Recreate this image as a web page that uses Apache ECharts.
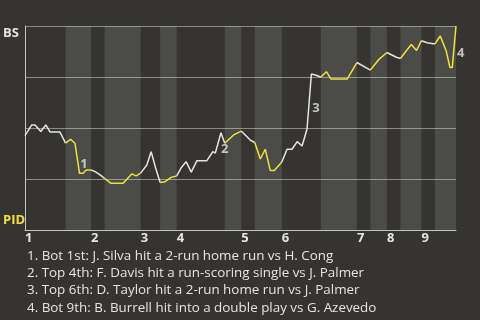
<!DOCTYPE html>
<html>
<head>
<meta charset="utf-8">
<script src="https://cdn.jsdelivr.net/npm/echarts@6/dist/echarts.min.js"></script>
<style>
html,body{margin:0;padding:0;background:#353430;}
#c{width:480px;height:320px;}
</style>
</head>
<body>
<div id="c"></div>
<script>
// x = pitch count of the game, y = BS win probability
var xMax = 287;
var halfInningBounds = [0, 27, 44, 53, 77, 90, 101, 133, 144, 153, 171, 197, 221, 230, 241, 250, 264, 273, 287];
var inningLabels = ['1','2','3','4','5','6','7','8','9'];
var pitchX = [0, 4.5, 6.7, 10.5, 13.9, 16.7, 23.3, 24, 27, 30.3, 33.3, 36.3, 38.7, 40.7, 44, 46.7, 50, 53,
  57.3, 65.3, 71.1, 74, 77, 81.1, 84, 87, 90, 93.3, 97.3, 101, 104, 107.3, 110.7, 114.5, 121.1, 125.1, 126.7,
  130.5, 133, 138.9, 144, 150, 153, 156.7, 160, 163.3, 166, 171, 174.5, 177.8, 181.3, 184.5, 187.8, 190.7,
  193.3, 197, 200.7, 203.8, 214.5, 221, 230, 235.5, 241, 247.3, 250, 254.7, 257.3, 260.7, 264, 267.8, 273,
  276.5, 280.5, 283, 284.5, 287];
var winProb = [0.463, 0.515, 0.515, 0.483, 0.515, 0.480, 0.480, 0.488, 0.426, 0.444, 0.425, 0.278, 0.278, 0.294,
  0.294, 0.286, 0.270, 0.253, 0.229, 0.229, 0.275, 0.265, 0.279, 0.319, 0.384, 0.304, 0.233, 0.237, 0.258,
  0.265, 0.305, 0.335, 0.284, 0.340, 0.340, 0.384, 0.377, 0.477, 0.425, 0.466, 0.485, 0.441, 0.429, 0.348,
  0.396, 0.292, 0.292, 0.333, 0.396, 0.396, 0.433, 0.412, 0.495, 0.765, 0.760, 0.750, 0.776, 0.740, 0.740,
  0.821, 0.784, 0.835, 0.870, 0.847, 0.841, 0.886, 0.909, 0.880, 0.928, 0.918, 0.912, 0.951, 0.877, 0.796,
  0.796, 1.0];
var keyEventIndex = [11, 37, 53, 75];
var keyEventText = [
  '1. Bot 1st: J. Silva hit a 2-run home run vs H. Cong',
  '2. Top 4th: F. Davis hit a run-scoring single vs J. Palmer',
  '3. Top 6th: D. Taylor hit a 2-run home run vs J. Palmer',
  '4. Bot 9th: B. Burrell hit into a double play vs G. Azevedo'
];
var teamTop = 'BS', teamBottom = 'PID';

var BG = '#353430', WHITE = '#e4e4e2', YELLOW = '#f0e23a';
var FONT = '"Open Sans", "Noto Sans", sans-serif';

var pts = pitchX.map(function (x, i) { return [x, winProb[i]]; });

var series = [];
// bottom half-inning shading
var areas = [];
for (var h = 1; h < halfInningBounds.length - 1; h += 2) {
  areas.push([{ xAxis: halfInningBounds[h] }, { xAxis: halfInningBounds[h + 1] }]);
}
series.push({
  type: 'line', data: [], z: 1, silent: true,
  markArea: { silent: true, itemStyle: { color: 'rgba(255,255,255,0.115)' }, data: areas }
});
// line segments per half inning
for (var k = 0; k < halfInningBounds.length - 1; k++) {
  var a = halfInningBounds[k], b = halfInningBounds[k + 1];
  var seg = pts.filter(function (p) { return p[0] >= a - 1e-6 && p[0] <= b + 1e-6; });
  series.push({
    type: 'line', data: seg, z: 3, symbol: 'none', silent: true, animation: false,
    lineStyle: { color: (k % 2 === 0) ? WHITE : YELLOW, width: 1.5 }
  });
}
// key event labels at segment midpoints
series.push({
  type: 'scatter', z: 5, symbolSize: 0, silent: true, animation: false,
  data: keyEventIndex.map(function (idx, n) {
    var p0 = pts[idx - 1], p1 = pts[idx];
    return { value: [(p0[0] + p1[0]) / 2, (p0[1] + p1[1]) / 2], name: String(n + 1) };
  }),
  label: {
    show: true, position: [3, 0], align: 'left', verticalAlign: 'top',
    formatter: function (p) { return p.name; },
    color: WHITE, fontSize: 13, fontWeight: 'bold', fontFamily: FONT
  }
});

var chart = echarts.init(document.getElementById('c'), null, { renderer: 'canvas' });
chart.setOption({
  backgroundColor: BG,
  animation: false,
  title: {
    text: keyEventText.join('\n'), left: 27, top: 247, padding: 0,
    textStyle: { color: WHITE, fontSize: 13.4, fontWeight: 'normal', lineHeight: 17.4, fontFamily: FONT }
  },
  grid: { left: 25, top: 26, width: 431, height: 204, containLabel: false },
  xAxis: {
    type: 'value', min: 0, max: xMax,
    axisLine: { show: true, lineStyle: { color: '#c4c4c2', width: 1 } },
    axisTick: { show: false },
    splitLine: { show: false },
    axisLabel: {
      show: true, customValues: halfInningBounds.filter(function (v, i) { return i % 2 === 0 && i < 18; }),
      formatter: function (v) {
        var i = halfInningBounds.indexOf(v);
        return inningLabels[i / 2];
      },
      align: 'left', margin: 2, color: WHITE, fontSize: 13, fontWeight: 'bold', fontFamily: FONT
    }
  },
  yAxis: {
    type: 'value', min: 0, max: 1, interval: 0.25,
    axisLine: { show: true, lineStyle: { color: '#c4c4c2', width: 1 } },
    axisTick: { show: false },
    splitLine: { show: true, lineStyle: { color: '#8a8a88', width: 1 } },
    axisLabel: {
      show: true, customValues: [0, 1], align: 'left', margin: 22,
      formatter: function (v) { return v === 1 ? '{t|' + teamTop + '}' : '{b|' + teamBottom + '}'; },
      rich: {
        t: { color: WHITE, fontSize: 13, fontWeight: 'bold', fontFamily: FONT, padding: [14, 0, 0, 0] },
        b: { color: YELLOW, fontSize: 13, fontWeight: 'bold', fontFamily: FONT, padding: [0, 0, 19, 0] }
      }
    }
  },
  series: series
});
</script>
</body>
</html>
